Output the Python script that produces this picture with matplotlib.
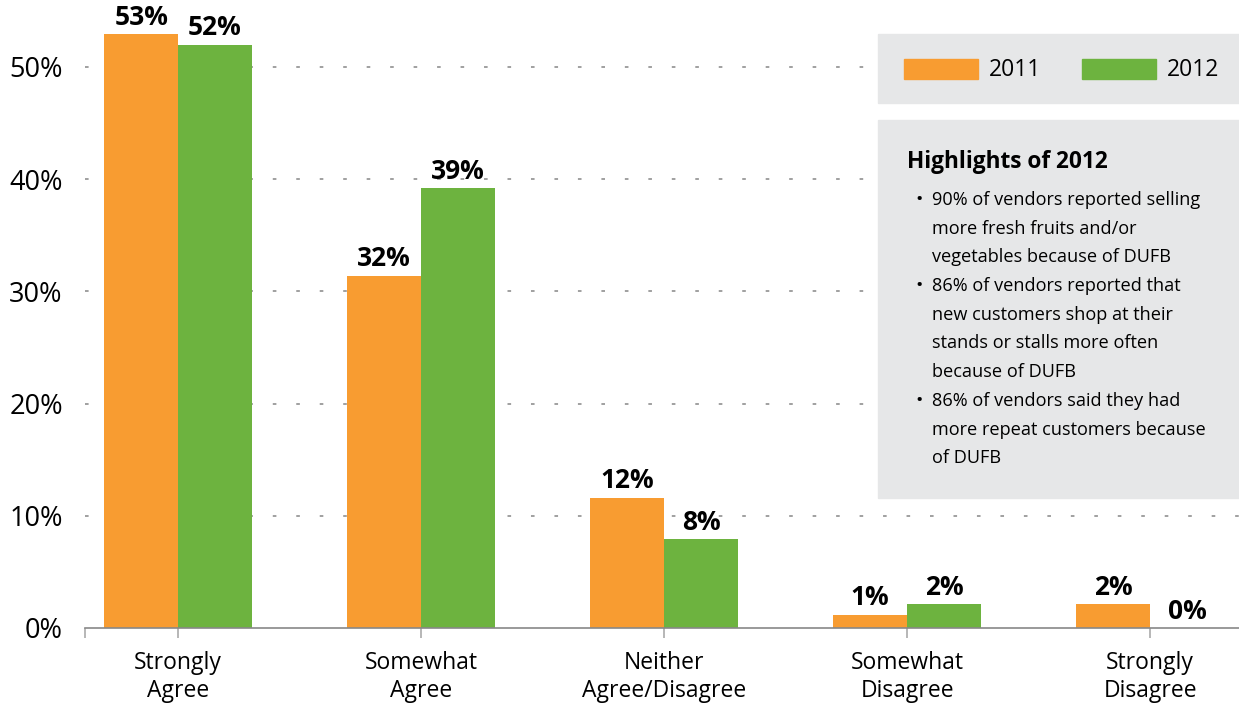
import matplotlib.pyplot as plt
from matplotlib.patches import Rectangle

categories = ['Strongly\nAgree', 'Somewhat\nAgree', 'Neither\nAgree/Disagree',
              'Somewhat\nDisagree', 'Strongly\nDisagree']
vals_2011 = [52.9, 31.4, 11.6, 1.2, 2.1]
vals_2012 = [52.0, 39.2, 7.9, 2.1, 0.0]
labels_2011 = ['53%', '32%', '12%', '1%', '2%']
labels_2012 = ['52%', '39%', '8%', '2%', '0%']
yticks = [0, 10, 20, 30, 40, 50]
highlights = [
    '90% of vendors reported selling\nmore fresh fruits and/or\nvegetables because of DUFB',
    '86% of vendors reported that\nnew customers shop at their\nstands or stalls more often\nbecause of DUFB',
    '86% of vendors said they had\nmore repeat customers because\nof DUFB',
]

orange = '#F89C31'
green = '#6DB33F'
boxgray = '#E6E7E8'

plt.rcParams['font.family'] = ['Open Sans', 'DejaVu Sans']

fig = plt.figure(figsize=(12.39, 7.06), dpi=100)
ax = fig.add_axes([85 / 1239, 1 - 628 / 706, 1 - 85 / 1239, 628 / 706])

x = list(range(len(categories)))
w = 0.304
ax.bar([i - w / 2 for i in x], vals_2011, width=w, color=orange, zorder=2)
ax.bar([i + w / 2 for i in x], vals_2012, width=w, color=green, zorder=2)

for i in x:
    ax.annotate(labels_2011[i], (i - w / 2, vals_2011[i]), xytext=(0, 2.5),
                textcoords='offset points', ha='center', va='bottom',
                fontsize=19, fontweight='bold', zorder=5)
    ax.annotate(labels_2012[i], (i + w / 2, vals_2012[i]), xytext=(0, 2.5),
                textcoords='offset points', ha='center', va='bottom',
                fontsize=19, fontweight='bold', zorder=5)

ax.set_xlim(-0.383, 4.366)
ax.set_ylim(0, 55.97)

ax.set_yticks(yticks)
ax.set_yticklabels([f'{t}%' for t in yticks], fontsize=19.5)
ax.tick_params(axis='y', length=0, pad=16)
for t in yticks[1:]:
    ax.axhline(t, color='#999999', lw=1.3, ls=(0, (2, 11)), zorder=1)

ax.set_xticks(x)
ax.set_xticklabels(categories, fontsize=16.5, linespacing=1.22)
ax.set_xticks([-0.383], minor=True)
ax.tick_params(axis='x', which='both', length=7.5, width=1.2, color='#AAAAAA',
               pad=9)

for s in ['top', 'right', 'left']:
    ax.spines[s].set_visible(False)
ax.spines['bottom'].set_color('#888888')
ax.spines['bottom'].set_linewidth(1.2)

# legend box
def fig_rect(x0, y0, x1, y1, **kw):
    r = Rectangle((x0 / 1239, 1 - y1 / 706), (x1 - x0) / 1239, (y1 - y0) / 706,
                  transform=fig.transFigure, **kw)
    fig.add_artist(r)

fig_rect(878, 34, 1239, 103, color=boxgray, zorder=3)
fig_rect(904, 59, 978, 79, color=orange, zorder=4)
fig_rect(1082, 59, 1156, 79, color=green, zorder=4)
fig.text(989 / 1239, 1 - 70 / 706, '2011', fontsize=16.5, va='center', zorder=5)
fig.text(1167 / 1239, 1 - 70 / 706, '2012', fontsize=16.5, va='center', zorder=5)

# highlights box
fig_rect(878, 120, 1239, 498, color=boxgray, zorder=3)
fig.text(907 / 1239, 1 - 162 / 706, 'Highlights of 2012', fontsize=16.3,
         fontweight='bold', va='center', zorder=5)
line_h = 28.7
y = 200
for item in highlights:
    lines = item.split('\n')
    fig.text(915 / 1239, 1 - y / 706, '•', fontsize=14, va='center', zorder=5)
    for ln in lines:
        fig.text(932 / 1239, 1 - y / 706, ln, fontsize=13.1, va='center', zorder=5)
        y += line_h

fig.savefig('out.png', dpi=100)
